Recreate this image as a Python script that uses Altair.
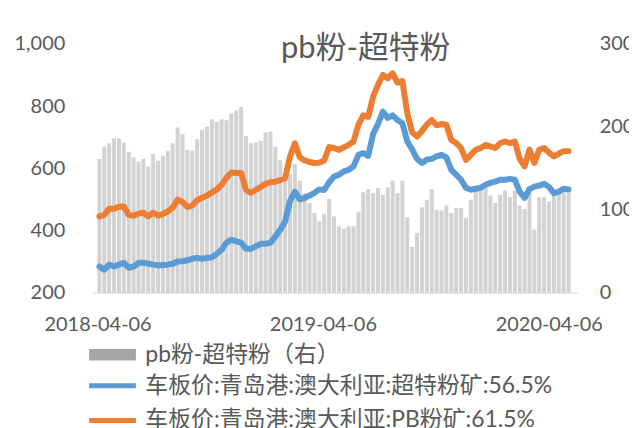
import altair as alt
import pandas as pd

# sampling dates (roughly weekly) and prices
dates = pd.date_range("2018-04-09", periods=97, freq="190h")

super_fines = [284, 274, 290, 284, 290, 296, 280, 284, 296, 296,
               293, 290, 288, 288, 290, 293, 300, 301, 304, 309,
               312, 309, 312, 313, 325, 338, 361, 370, 365, 361,
               341, 341, 349, 357, 357, 361, 381, 402, 429, 495,
               525, 500, 505, 512, 521, 532, 530, 555, 573, 579,
               590, 595, 606, 643, 649, 640, 710, 742, 782, 762,
               770, 755, 745, 686, 660, 630, 617, 628, 630, 638,
               643, 635, 595, 579, 563, 537, 531, 534, 537, 547,
               553, 557, 563, 563, 566, 563, 525, 505, 533, 541,
               544, 550, 540, 520, 525, 534, 532]

pb_fines = [445, 450, 470, 470, 476, 477, 450, 447, 454, 457,
            445, 457, 447, 453, 461, 473, 499, 492, 476, 480,
            497, 505, 512, 522, 531, 547, 569, 586, 585, 585,
            530, 521, 530, 540, 550, 555, 557, 562, 568, 638,
            680, 635, 625, 620, 617, 618, 625, 668, 665, 659,
            667, 675, 686, 740, 770, 765, 830, 868, 900, 889,
            905, 875, 880, 777, 715, 702, 720, 740, 755, 738,
            742, 740, 691, 681, 665, 627, 643, 659, 665, 675,
            670, 665, 681, 686, 681, 686, 630, 606, 660, 617,
            659, 665, 650, 638, 647, 655, 655]

SUPER = "车板价:青岛港:澳大利亚:超特粉矿:56.5%"
PB = "车板价:青岛港:澳大利亚:PB粉矿:61.5%"
SPREAD = "pb粉-超特粉（右）"
TITLE = "pb粉-超特粉"

left_ticks = [200, 400, 600, 800, 1000]
right_ticks = [0, 100, 200, 300]

df = pd.DataFrame({"date": dates, "super": super_fines, "pb": pb_fines})
df["spread"] = df["pb"] - df["super"]
df["s"] = SPREAD

long = pd.concat([
    pd.DataFrame({"date": dates, "series": SUPER, "price": super_fines}),
    pd.DataFrame({"date": dates, "series": PB, "price": pb_fines}),
])

FONT = "Lato, 'Noto Sans CJK SC'"
TXT = "#595959"

x_domain = [alt.DateTime(year=2018, month=4, date=6),
            alt.DateTime(year=2020, month=5, date=14)]
x_ticks = [alt.DateTime(year=2018, month=4, date=6),
           alt.DateTime(year=2019, month=4, date=6),
           alt.DateTime(year=2020, month=4, date=6)]

xscale = alt.Scale(domain=x_domain)
xaxis = alt.Axis(values=x_ticks, format="%Y-%m-%d", title=None,
                 labelFontSize=20, labelFont=FONT, labelColor=TXT,
                 ticks=False, labelPadding=22, domainColor="#D9D9D9",
                 grid=False, labelFlush=False, labelOverlap=False)

bars = alt.Chart(df).mark_bar(size=4, opacity=0.5).encode(
    x=alt.X("date:T", scale=xscale, axis=xaxis),
    y=alt.Y("spread:Q", scale=alt.Scale(domain=[0, 300], nice=False),
            axis=alt.Axis(orient="right", values=right_ticks, title=None,
                          grid=False, domain=False, ticks=False,
                          labelPadding=22, labelFontSize=20, labelFont=FONT,
                          labelColor=TXT)),
    color=alt.Color("s:N", scale=alt.Scale(domain=[SPREAD], range=["#A5A5A5"]),
                    legend=alt.Legend(title=None, orient="none", legendX=-10, legendY=301,
                                      symbolType="M-1,-1.15H8.4V1.15H-1Z", symbolSize=100,
                                      symbolOpacity=1, symbolStrokeWidth=0,
                                      labelOffset=40, labelFontSize=23, labelFont=FONT,
                                      labelColor=TXT, labelLimit=600)),
)

lines = alt.Chart(long).mark_line(strokeWidth=6, strokeCap="round", strokeJoin="round").encode(
    x=alt.X("date:T", scale=xscale, axis=xaxis),
    y=alt.Y("price:Q", scale=alt.Scale(domain=[200, 1000], nice=False),
            axis=alt.Axis(orient="left", values=left_ticks, format=",.0f", title=None,
                          grid=False, domain=False, ticks=False,
                          labelPadding=28, labelFontSize=20, labelFont=FONT,
                          labelColor=TXT)),
    color=alt.Color("series:N", scale=alt.Scale(domain=[SUPER, PB], range=["#5B9BD5", "#ED7D31"]),
                    legend=alt.Legend(title=None, orient="none", legendX=-10, legendY=332,
                                      symbolType="M-1,0H8.4", symbolSize=100,
                                      symbolStrokeWidth=5, rowPadding=11,
                                      labelOffset=40, labelFontSize=23, labelFont=FONT,
                                      labelColor=TXT, labelLimit=600)),
)

chart = alt.layer(bars, lines).resolve_scale(
    y="independent", color="independent"
).properties(
    width=487, height=250,
    title=alt.TitleParams(text=TITLE, anchor="middle", frame="group", offset=0,
                          baseline="alphabetic", dx=31, dy=55, fontSize=31,
                          font=FONT, color=TXT, fontWeight="normal"),
    autosize=alt.AutoSizeParams(type="none"),
    padding={"left": 85, "top": 35, "right": 52, "bottom": 135},
).configure_view(stroke=None)

chart.save("out.html", embed_options={"renderer": "svg", "actions": False})
